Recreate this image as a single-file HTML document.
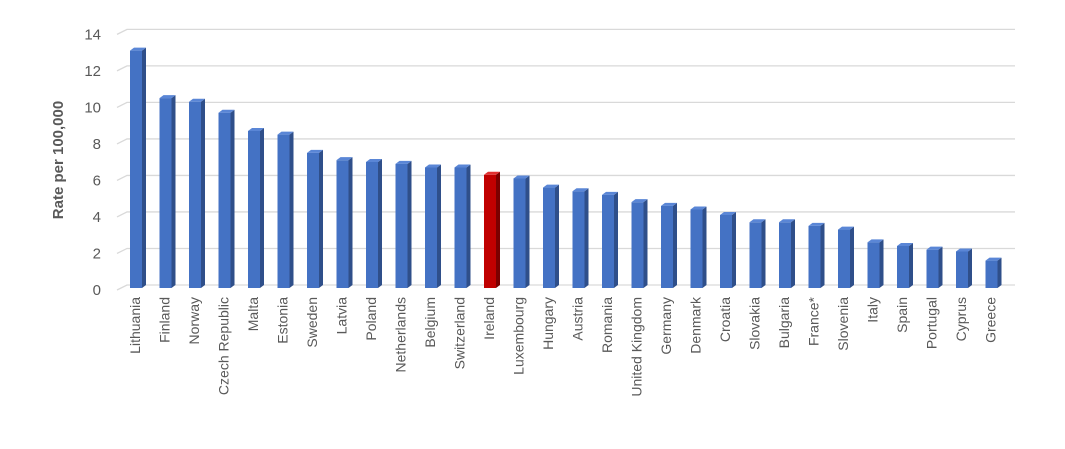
<!DOCTYPE html>
<html><head><meta charset="utf-8"><style>
body{margin:0;background:#fff}
svg{font-family:"Liberation Sans",sans-serif}
</style></head><body>
<svg width="1065" height="444">
<g id="grid"></g><g id="bars"></g><g id="labels"></g>
<text transform="translate(63,160) rotate(-90)" text-anchor="middle" font-size="15" font-weight="bold" fill="#595959">Rate per 100,000</text>
</svg>
<script>
const categories=["Lithuania","Finland","Norway","Czech Republic","Malta","Estonia","Sweden","Latvia","Poland","Netherlands","Belgium","Switzerland","Ireland","Luxembourg","Hungary","Austria","Romania","United Kingdom","Germany","Denmark","Croatia","Slovakia","Bulgaria","France*","Slovenia","Italy","Spain","Portugal","Cyprus","Greece"];
const values=[13.0,10.4,10.2,9.6,8.6,8.4,7.4,7.0,6.9,6.8,6.6,6.6,6.2,6.0,5.5,5.3,5.1,4.7,4.5,4.3,4.0,3.6,3.6,3.4,3.2,2.5,2.3,2.1,2.0,1.5];
const yTicks=[0,2,4,6,8,10,12,14];
const highlight="Ireland";
const NS="http://www.w3.org/2000/svg";
const unit=18.26, base=288, backBase=285;
const y=v=>base-v*unit, yb=v=>backBase-v*unit;
const x=i=>130+i*29.5;
function mk(tag,attrs,parent){const e=document.createElementNS(NS,tag);for(const k in attrs)e.setAttribute(k,attrs[k]);parent.appendChild(e);return e;}
const G=document.getElementById('grid'),B=document.getElementById('bars'),L=document.getElementById('labels');
yTicks.forEach(t=>{
  const ln=mk('path',{d:`M117 ${yb(t)+5} L127 ${yb(t)} L1015 ${yb(t)}`,stroke:'#d9d9d9','stroke-width':1.3,fill:'none'},G);
  
  
  const tx=mk('text',{x:101,y:yb(t)+10,'text-anchor':'end','font-size':15,fill:'#595959'},G);
  tx.textContent=t;
  
  
});
values.forEach((v,i)=>{
  const hi=categories[i]===highlight;
  const front=hi?'#c00000':'#4472c4', side=hi?'#7a0000':'#2f4f8a', top=hi?'#e03030':'#5a86d6';
  const x0=x(i), w=12, d=4, yt=y(v);
  const g=mk('g',{},B);
  
  
  mk('rect',{x:x0,y:yt,width:w,height:base-yt,fill:front},g);
  mk('polygon',{points:`${x0+w},${yt} ${x0+w+d},${yt-3} ${x0+w+d},${base-3} ${x0+w},${base}`,fill:side},g);
  mk('polygon',{points:`${x0},${yt} ${x0+d},${yt-3} ${x0+w+d},${yt-3} ${x0+w},${yt}`,fill:top},g);
  const c=x0+w/2+4;
  const t=mk('text',{transform:`translate(${c},297) rotate(-90)`,'text-anchor':'end','font-size':14,fill:'#595959'},L);
  t.textContent=categories[i];
  
  
});
</script>
</body></html>
